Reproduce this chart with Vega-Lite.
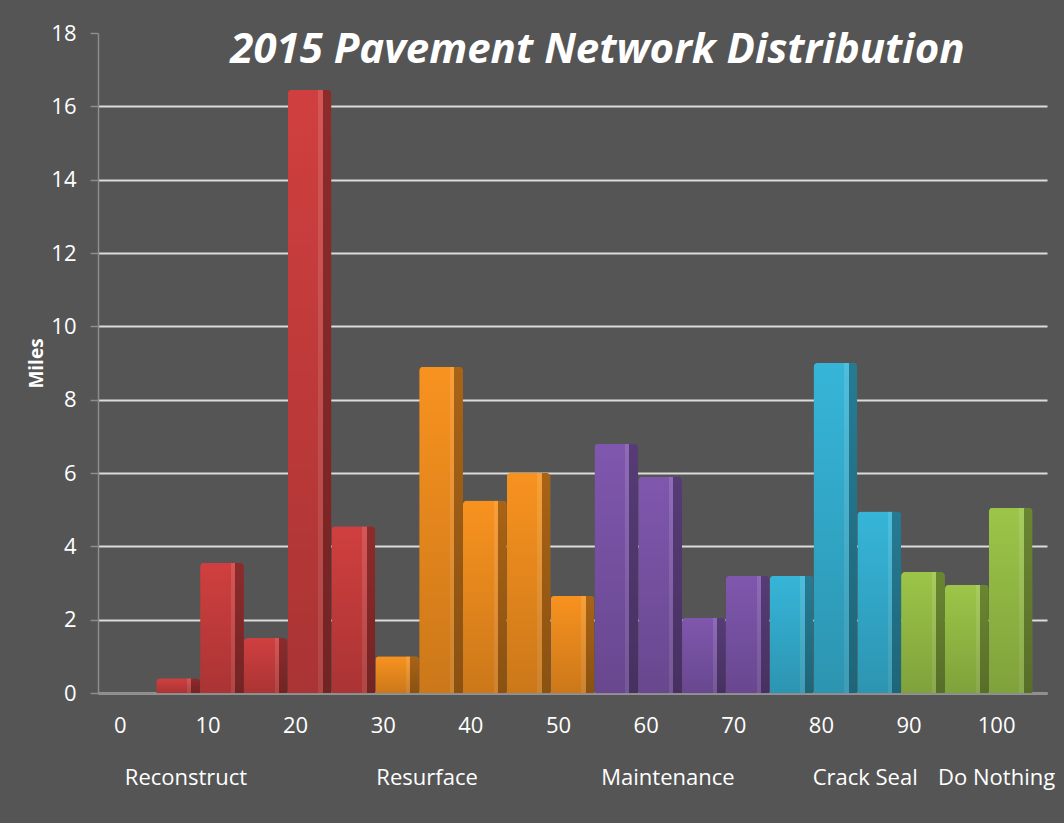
{
  "$schema": "https://vega.github.io/schema/vega-lite/v6.json",
  "autosize": "none",
  "width": 949,
  "height": 660,
  "padding": {"left": 98, "top": 33, "right": 17, "bottom": 130},
  "background": "#555555",
  "title": {
    "text": "2015 Pavement Network Distribution",
    "anchor": "middle",
    "dx": 25,
    "offset": -83,
    "baseline": "alphabetic",
    "font": "Open Sans",
    "fontSize": 42,
    "fontWeight": "bold",
    "fontStyle": "italic",
    "color": "#ffffff"
  },
  "config": {
    "view": {"stroke": null},
    "axis": {"labelFont": "Open Sans", "titleFont": "Open Sans"}
  },
  "data": {
    "values": [
      {"grade": 0, "miles": 0, "treatment": "Reconstruct"},
      {"grade": 5, "miles": 0.4, "treatment": "Reconstruct"},
      {"grade": 10, "miles": 3.55, "treatment": "Reconstruct"},
      {"grade": 15, "miles": 1.5, "treatment": "Reconstruct"},
      {"grade": 20, "miles": 16.45, "treatment": "Reconstruct"},
      {"grade": 25, "miles": 4.55, "treatment": "Reconstruct"},
      {"grade": 30, "miles": 1.0, "treatment": "Resurface"},
      {"grade": 35, "miles": 8.9, "treatment": "Resurface"},
      {"grade": 40, "miles": 5.25, "treatment": "Resurface"},
      {"grade": 45, "miles": 6.0, "treatment": "Resurface"},
      {"grade": 50, "miles": 2.65, "treatment": "Resurface"},
      {"grade": 55, "miles": 6.8, "treatment": "Maintenance"},
      {"grade": 60, "miles": 5.9, "treatment": "Maintenance"},
      {"grade": 65, "miles": 2.05, "treatment": "Maintenance"},
      {"grade": 70, "miles": 3.2, "treatment": "Maintenance"},
      {"grade": 75, "miles": 3.2, "treatment": "Crack Seal"},
      {"grade": 80, "miles": 9.0, "treatment": "Crack Seal"},
      {"grade": 85, "miles": 4.95, "treatment": "Crack Seal"},
      {"grade": 90, "miles": 3.3, "treatment": "Do Nothing"},
      {"grade": 95, "miles": 2.95, "treatment": "Do Nothing"},
      {"grade": 100, "miles": 5.05, "treatment": "Do Nothing"}
    ]
  },
  "encoding": {
    "x": {
      "field": "grade",
      "type": "ordinal",
      "scale": {"paddingInner": 0, "paddingOuter": 0.33}
    },
    "y": {
      "field": "miles",
      "type": "quantitative",
      "scale": {"domain": [0, 18], "nice": false},
      "axis": {
        "title": "Miles",
        "titleColor": "#ffffff",
        "titleFontSize": 19,
        "titleFontWeight": "bold",
        "titlePadding": 4,
        "values": [0, 2, 4, 6, 8, 10, 12, 14, 16, 18],
        "labelColor": "#ffffff",
        "labelFontSize": 22,
        "labelPadding": 14,
        "tickSize": 8,
        "tickColor": "#8c8c8c",
        "tickWidth": 1.5,
        "domainColor": "#8c8c8c",
        "domainWidth": 1.5,
        "grid": true,
        "gridColor": "#dcdcdc",
        "gridWidth": 2,
        "gridOpacity": {"condition": {"test": "datum.value == 18", "value": 0}, "value": 1}
      }
    }
  },
  "layer": [
    {
      "mark": {"type": "bar", "cornerRadiusTopLeft": 4, "cornerRadiusTopRight": 4},
      "encoding": {
        "color": {
          "field": "treatment",
          "type": "nominal",
          "legend": null,
          "scale": {
            "domain": ["Reconstruct", "Resurface", "Maintenance", "Crack Seal", "Do Nothing"],
            "range": ["#d03f3f", "#f8921f", "#7f57ae", "#36b5d8", "#9cc548"]
          }
        },
        "x": {
          "field": "grade",
          "type": "ordinal",
          "axis": {
            "title": null,
            "labelAngle": 0,
            "labelExpr": "datum.value % 10 === 0 ? datum.label : ''",
            "labelColor": "#ffffff",
            "labelFontSize": 22,
            "labelOffset": -14,
            "labelPadding": 22,
            "ticks": false,
            "domainColor": "#8c8c8c",
            "domainWidth": 2,
            "grid": false
          }
        }
      }
    },
    {
      "mark": {
        "type": "bar",
        "cornerRadiusTopLeft": 4,
        "cornerRadiusTopRight": 4,
        "fill": {
          "gradient": "linear",
          "x1": 0, "y1": 0, "x2": 1, "y2": 0,
          "stops": [
            {"offset": 0, "color": "rgba(255,255,255,0)"},
            {"offset": 0.7, "color": "rgba(255,255,255,0)"},
            {"offset": 0.7, "color": "rgba(255,255,255,0.12)"},
            {"offset": 0.8, "color": "rgba(255,255,255,0.12)"},
            {"offset": 0.8, "color": "rgba(0,0,0,0.32)"},
            {"offset": 1, "color": "rgba(0,0,0,0.32)"}
          ]
        }
      },
      "encoding": {
        "x": {
          "field": "grade",
          "type": "ordinal",
          "axis": {
            "orient": "bottom",
            "title": null,
            "labelAngle": 0,
            "labelExpr": "datum.value == 10 ? 'Reconstruct' : datum.value == 35 ? 'Resurface' : datum.value == 65 ? 'Maintenance' : datum.value == 85 ? 'Crack Seal' : datum.value == 100 ? 'Do Nothing' : ''",
            "labelOffset": {"condition": {"test": "datum.value == 10 || datum.value == 65", "value": -36}, "value": -14},
            "labelColor": "#ffffff",
            "labelFontSize": 22,
            "labelPadding": 74,
            "labelOverlap": false,
            "ticks": false,
            "domain": false,
            "grid": false
          }
        }
      }
    },
    {
      "mark": {
        "type": "bar",
        "cornerRadiusTopLeft": 4,
        "cornerRadiusTopRight": 4,
        "fill": {
          "gradient": "linear",
          "x1": 0, "y1": 0, "x2": 0, "y2": 1,
          "stops": [
            {"offset": 0, "color": "rgba(0,0,0,0)"},
            {"offset": 1, "color": "rgba(0,0,0,0.18)"}
          ]
        }
      },
      "encoding": {
        "x": {"field": "grade", "type": "ordinal", "axis": null}
      }
    }
  ],
  "resolve": {"axis": {"x": "independent"}}
}
